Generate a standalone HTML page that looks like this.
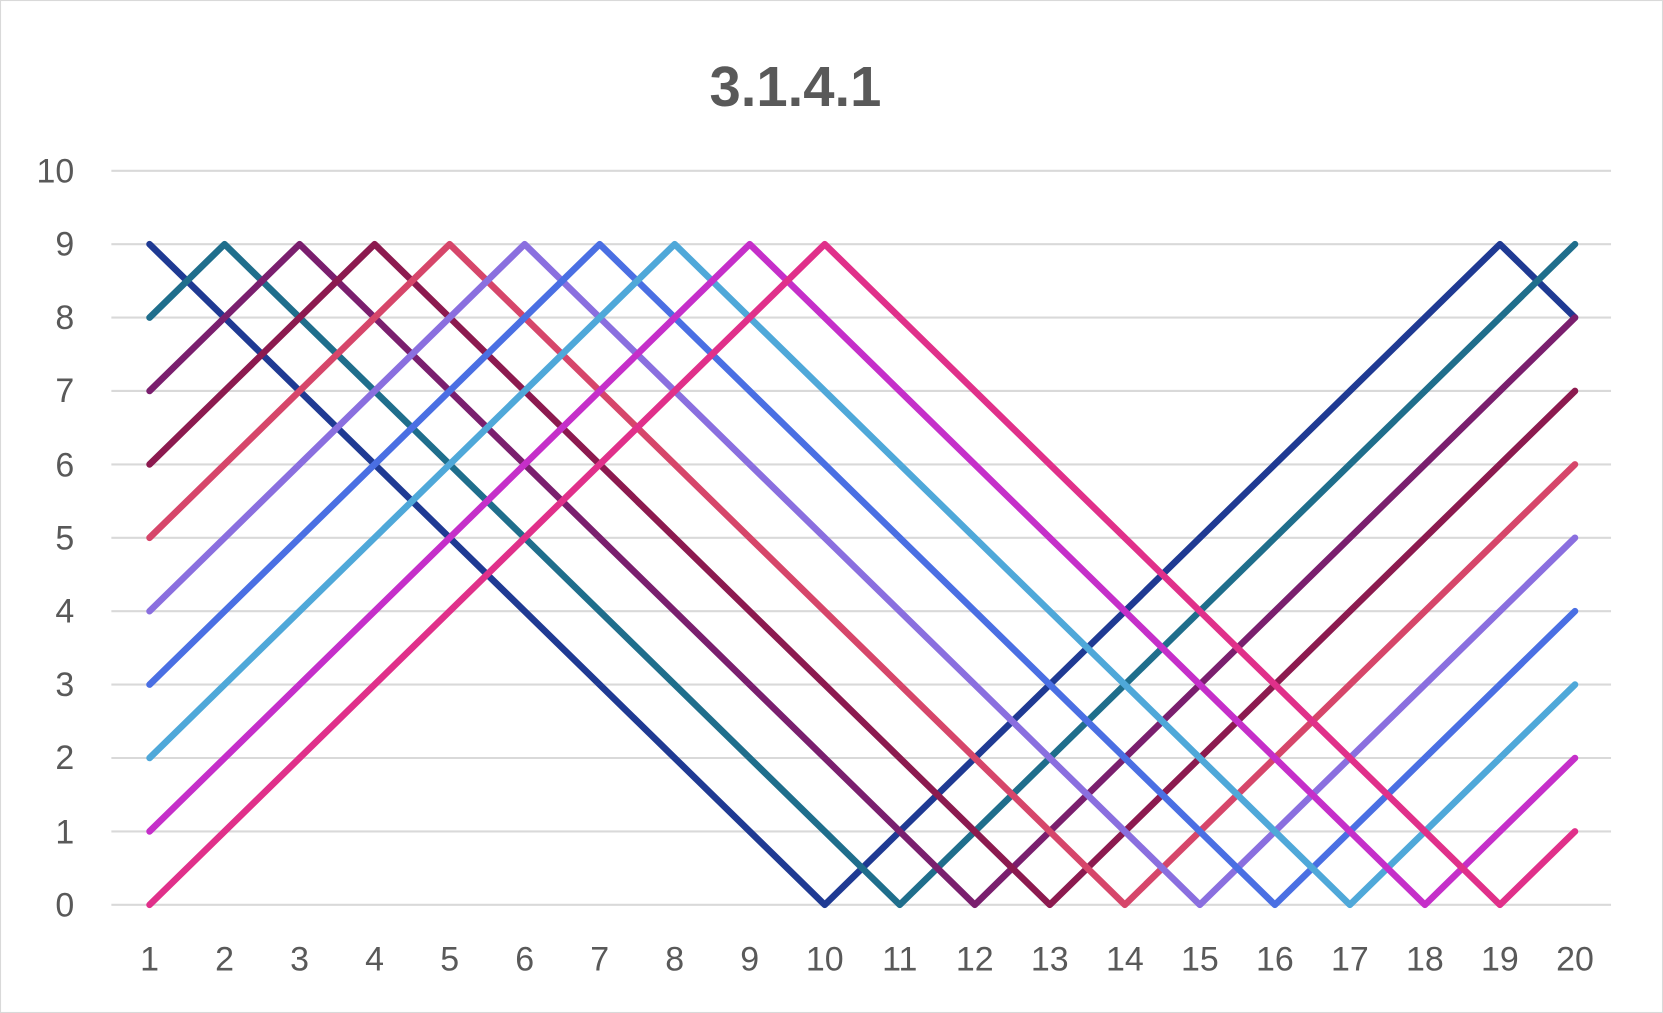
<!DOCTYPE html>
<html><head><meta charset="utf-8"><style>
html,body{margin:0;padding:0;background:#fff;}
svg{display:block;}
text{font-family:"Liberation Sans",sans-serif;fill:#595959;}
</style></head><body>
<svg width="1663" height="1013" viewBox="0 0 1568 955" preserveAspectRatio="none" xmlns="http://www.w3.org/2000/svg">
<rect x="0.5" y="0.5" width="1567" height="954" fill="#fff" stroke="#d9d9d9"/>
<text x="750" y="100" text-anchor="middle" font-size="53" font-weight="bold">3.1.4.1</text>
<g stroke="#d9d9d9" stroke-width="2">
<line x1="105" x2="1519" y1="161" y2="161"/><line x1="105" x2="1519" y1="230.2" y2="230.2"/>
<line x1="105" x2="1519" y1="299.4" y2="299.4"/><line x1="105" x2="1519" y1="368.6" y2="368.6"/>
<line x1="105" x2="1519" y1="437.8" y2="437.8"/><line x1="105" x2="1519" y1="507" y2="507"/>
<line x1="105" x2="1519" y1="576.2" y2="576.2"/><line x1="105" x2="1519" y1="645.4" y2="645.4"/>
<line x1="105" x2="1519" y1="714.6" y2="714.6"/><line x1="105" x2="1519" y1="783.8" y2="783.8"/>
<line x1="105" x2="1519" y1="853" y2="853"/>
</g>
<g font-size="32" text-anchor="end">
<text x="70" y="172">10</text><text x="70" y="241">9</text><text x="70" y="310">8</text>
<text x="70" y="379">7</text><text x="70" y="449">6</text><text x="70" y="518">5</text>
<text x="70" y="587">4</text><text x="70" y="656">3</text><text x="70" y="725">2</text>
<text x="70" y="795">1</text><text x="70" y="864">0</text>
</g>
<g font-size="32" text-anchor="middle">
<text x="141" y="915">1</text><text x="211.7" y="915">2</text><text x="282.5" y="915">3</text>
<text x="353.2" y="915">4</text><text x="424" y="915">5</text><text x="494.7" y="915">6</text>
<text x="565.4" y="915">7</text><text x="636.2" y="915">8</text><text x="706.9" y="915">9</text>
<text x="777.6" y="915">10</text><text x="848.4" y="915">11</text><text x="919.1" y="915">12</text>
<text x="989.8" y="915">13</text><text x="1060.6" y="915">14</text><text x="1131.3" y="915">15</text>
<text x="1202" y="915">16</text><text x="1272.8" y="915">17</text><text x="1343.5" y="915">18</text>
<text x="1414.2" y="915">19</text><text x="1485" y="915">20</text>
</g>
<g transform="translate(141,853) scale(70.737,-69.2) translate(-1,0)" fill="none" stroke-width="6.6" stroke-linejoin="round" stroke-linecap="round">
<polyline vector-effect="non-scaling-stroke" stroke="#1F3A93" points="1,9 10,0 19,9 20,8"/>
<polyline vector-effect="non-scaling-stroke" stroke="#1F6E8C" points="1,8 2,9 11,0 20,9"/>
<polyline vector-effect="non-scaling-stroke" stroke="#7A1F6E" points="1,7 3,9 12,0 20,8"/>
<polyline vector-effect="non-scaling-stroke" stroke="#8C1A4F" points="1,6 4,9 13,0 20,7"/>
<polyline vector-effect="non-scaling-stroke" stroke="#D6466A" points="1,5 5,9 14,0 20,6"/>
<polyline vector-effect="non-scaling-stroke" stroke="#8A6FDF" points="1,4 6,9 15,0 20,5"/>
<polyline vector-effect="non-scaling-stroke" stroke="#4A6FE3" points="1,3 7,9 16,0 20,4"/>
<polyline vector-effect="non-scaling-stroke" stroke="#4FA8D9" points="1,2 8,9 17,0 20,3"/>
<polyline vector-effect="non-scaling-stroke" stroke="#C52FC9" points="1,1 9,9 18,0 20,2"/>
<polyline vector-effect="non-scaling-stroke" stroke="#E0308A" points="1,0 10,9 19,0 20,1"/>
</g>
</svg>
</body></html>
